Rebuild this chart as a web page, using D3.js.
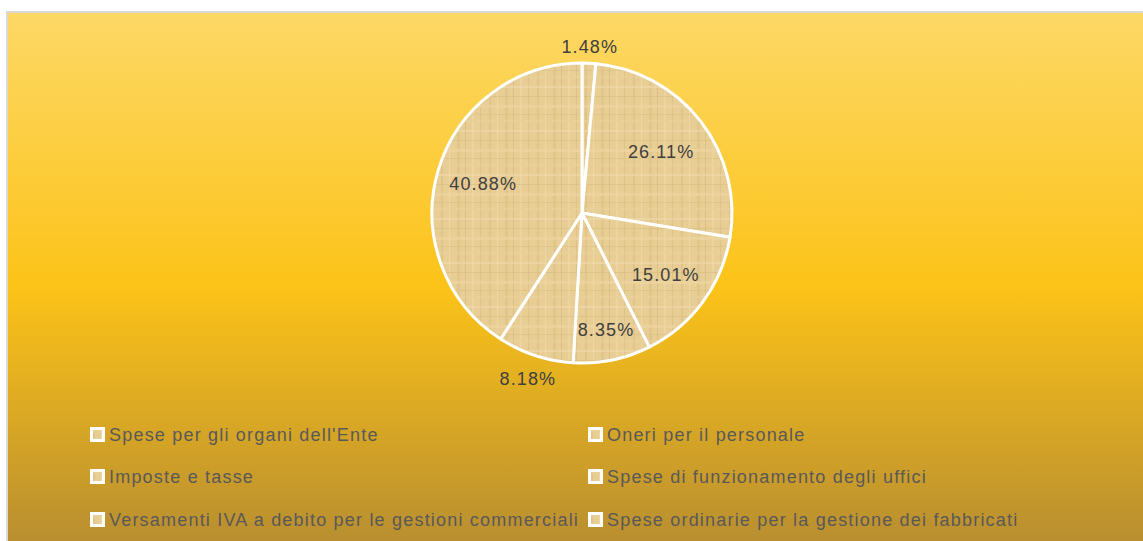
<!DOCTYPE html>
<html>
<head>
<meta charset="utf-8">
<script src="https://cdn.jsdelivr.net/npm/d3@7"></script>
<style>
  body { margin: 0; background: #fff; }
  svg { display: block; }
</style>
</head>
<body>
<div id="container"></div>
<script>
/* DATA */
const categories = [
  "Spese per gli organi dell'Ente",
  "Oneri per il personale",
  "Imposte e tasse",
  "Spese di funzionamento degli uffici",
  "Versamenti IVA a debito per le gestioni commerciali",
  "Spese ordinarie per la gestione dei fabbricati"
];
const values = [1.48, 26.11, 15.01, 8.35, 8.18, 40.88];
const valueLabels = ["1.48%", "26.11%", "15.01%", "8.35%", "8.18%", "40.88%"];

/* LAYOUT */
const width = 1143,
  height = 541,
  cx = 582,
  cy = 213,
  radius = 150;
// label distance from centre (Excel best fit placement)
const labelRadius = [166, 100, 104, 119, 174, 103];

const svg = d3.select("#container")
  .append("svg")
  .attr("width", width)
  .attr("height", height);

const defs = svg.append("defs");

const grad = defs.append("linearGradient")
  .attr("id", "bg")
  .attr("x1", 0).attr("y1", 0).attr("x2", 0).attr("y2", 1);
grad.append("stop").attr("offset", "0%").attr("stop-color", "#FDD866");
grad.append("stop").attr("offset", "50%").attr("stop-color", "#FCC318");
grad.append("stop").attr("offset", "100%").attr("stop-color", "#B38A32");

// papyrus-like texture
const pat = defs.append("pattern")
  .attr("id", "papyrus")
  .attr("patternUnits", "userSpaceOnUse")
  .attr("width", 48).attr("height", 44);
pat.append("rect").attr("width", 48).attr("height", 44).attr("fill", "#E8CE95");
[[3, 2, "#DEC285"], [11, 1, "#EFD9A8"], [19, 3, "#E0C488"], [27, 1, "#D8BC7E"],
 [34, 2, "#EED6A2"], [42, 1, "#DCC083"]].forEach(([x, w, c]) => {
  pat.append("rect").attr("x", x).attr("y", 0).attr("width", w).attr("height", 44)
    .attr("fill", c).attr("opacity", 0.8);
});
[[5, 2, "#F0D9AA"], [15, 1, "#DBC081"], [24, 3, "#EED5A0"], [33, 1, "#DDC285"],
 [39, 2, "#EAD09A"]].forEach(([y, h, c]) => {
  pat.append("rect").attr("x", 0).attr("y", y).attr("width", 48).attr("height", h)
    .attr("fill", c).attr("opacity", 0.7);
});

// chart area
svg.append("rect")
  .attr("x", 7).attr("y", 12)
  .attr("width", width + 10).attr("height", height + 10)
  .attr("fill", "url(#bg)")
  .attr("stroke", "#D9D9D9")
  .attr("stroke-width", 2);

/* PIE */
const pie = d3.pie().sort(null).value(d => d)(values);
const arc = d3.arc().innerRadius(0).outerRadius(radius);

const g = svg.append("g").attr("transform", `translate(${cx},${cy})`);

g.selectAll(".slice")
  .data(pie)
  .join("path")
  .attr("class", "slice")
  .attr("d", arc)
  .attr("fill", "url(#papyrus)")
  .attr("stroke", "#fff")
  .attr("stroke-width", 3)
  .attr("stroke-linejoin", "round");

g.selectAll(".lbl")
  .data(pie)
  .join("text")
  .attr("class", "lbl")
  .attr("transform", (d, i) => {
    const a = (d.startAngle + d.endAngle) / 2;
    const r = labelRadius[i];
    return `translate(${Math.sin(a) * r},${-Math.cos(a) * r})`;
  })
  .attr("text-anchor", "middle")
  .attr("dy", "0.35em")
  .style("font-family", "'Liberation Sans', Arial, sans-serif")
  .style("font-size", "18px")
  .style("letter-spacing", "1.1px")
  .attr("fill", "#404040")
  .text((d, i) => valueLabels[i]);

/* LEGEND */
const colX = [90, 588];
const rowY = [435, 477, 520];

const leg = svg.selectAll(".leg")
  .data(categories)
  .join("g")
  .attr("class", "leg")
  .attr("transform", (d, i) => `translate(${colX[i % 2]},${rowY[Math.floor(i / 2)]})`);

leg.append("rect")
  .attr("x", 1.5).attr("y", -6.5)
  .attr("width", 12).attr("height", 12)
  .attr("fill", "url(#papyrus)")
  .attr("stroke", "#fff")
  .attr("stroke-width", 3);

leg.append("text")
  .attr("x", 19)
  .attr("dy", "0.36em")
  .style("font-family", "'Liberation Sans', Arial, sans-serif")
  .style("font-size", "18px")
  .style("letter-spacing", "1.2px")
  .attr("fill", "#595959")
  .text(d => d);
</script>
</body>
</html>
